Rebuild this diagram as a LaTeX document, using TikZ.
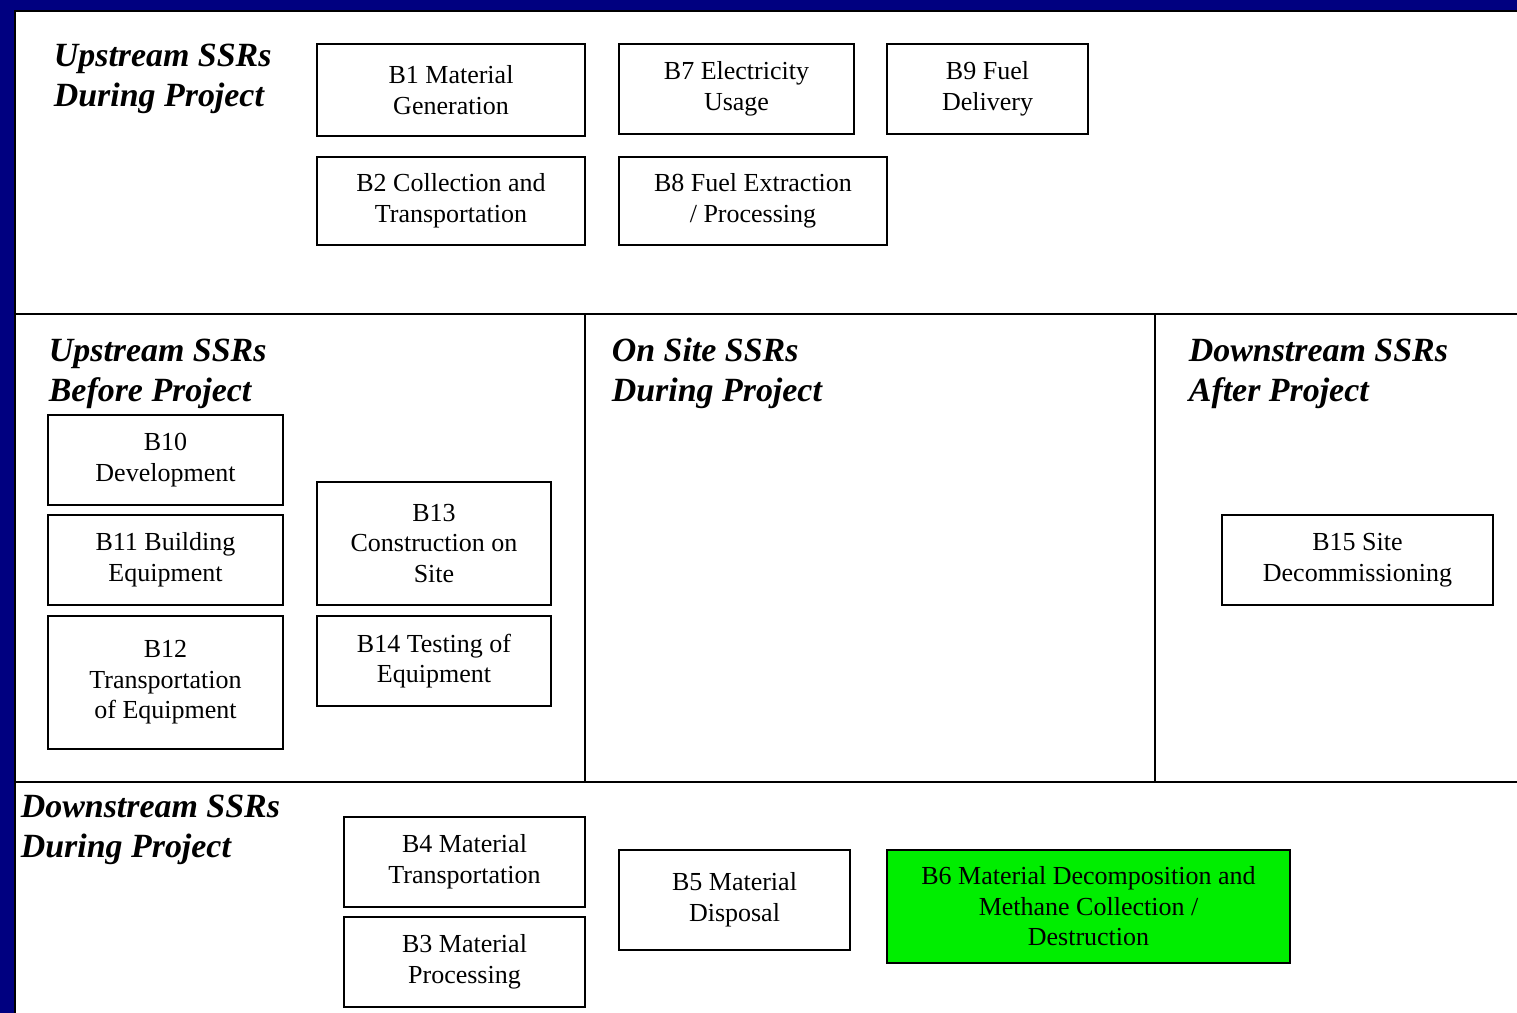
\documentclass[tikz,border=0pt]{standalone}
\usepackage{fontspec}
\setmainfont{Liberation Serif}
\usetikzlibrary{positioning}
\definecolor{slideblue}{RGB}{0,0,128}
\definecolor{hotgreen}{RGB}{0,238,0}

\begin{document}
\begin{tikzpicture}[x=0.02cm, y=-0.02cm, line width=1pt,
  ssr box/.style={draw, rectangle, align=center, inner sep=2pt, font=\fontsize{14.8}{17.4}\selectfont},
  group title/.style={anchor=north west, align=left, inner sep=0pt, font=\fontsize{19.3}{22.8}\selectfont\bfseries\itshape}]
\useasboundingbox (0,0) rectangle (1517,1013);
\fill[slideblue] (0,0) rectangle (1517,1013);
\draw[fill=white, line width=1.2pt] (15,11) rectangle (1530,1030);
% frame of the groups
\draw (15,314) -- (1530,314);
\draw (15,782) -- (1530,782);
\draw (585,314) -- (585,782);
\draw (1155,314) -- (1155,782);
\begin{scope}
\node[group title] (t1) at (53,43) {Upstream SSRs\\During Project};
\node[group title] (t2) at (48,338) {Upstream SSRs\\Before Project};
\node[group title] (t3) at (611,337) {On Site SSRs\\During Project};
\node[group title] (t4) at (1188,338) {Downstream SSRs\\After Project};
\node[group title] (t5) at (20,794) {Downstream SSRs\\During Project};
\end{scope}
\begin{scope}
\node[ssr box, minimum width=5.36cm, minimum height=1.84cm] (b1) at (451,90) {B1 Material\\Generation};
\node[ssr box, minimum width=4.7cm, minimum height=1.8cm] (b7) at (736.5,89) {B7 Electricity\\Usage};
\node[ssr box, minimum width=4.02cm, minimum height=1.8cm] (b9) at (987.5,89) {B9 Fuel\\Delivery};
\node[ssr box, minimum width=5.36cm, minimum height=1.76cm] (b2) at (451,201) {B2 Collection and\\Transportation};
\node[ssr box, minimum width=5.36cm, minimum height=1.76cm] (b8) at (753,201) {B8 Fuel Extraction\\/ Processing};
\node[ssr box, minimum width=4.7cm, minimum height=1.8cm] (b10) at (165.5,460) {B10\\Development};
\node[ssr box, minimum width=4.7cm, minimum height=1.8cm] (b11) at (165.5,560) {B11 Building\\Equipment};
\node[ssr box, minimum width=4.7cm, minimum height=2.66cm] (b12) at (165.5,682.5) {B12\\Transportation\\of Equipment};
\node[ssr box, minimum width=4.68cm, minimum height=2.46cm] (b13) at (434,543.5) {B13\\Construction on\\Site};
\node[ssr box, minimum width=4.68cm, minimum height=1.8cm] (b14) at (434,661) {B14 Testing of\\Equipment};
\node[ssr box, minimum width=5.42cm, minimum height=1.8cm] (b15) at (1357.5,560) {B15 Site\\Decommissioning};
\node[ssr box, minimum width=4.82cm, minimum height=1.8cm] (b4) at (464.5,862) {B4 Material\\Transportation};
\node[ssr box, minimum width=4.82cm, minimum height=1.8cm] (b3) at (464.5,962) {B3 Material\\Processing};
\node[ssr box, minimum width=4.62cm, minimum height=2cm] (b5) at (734.5,900) {B5 Material\\Disposal};
\node[ssr box, fill=hotgreen, minimum width=8.06cm, minimum height=2.26cm] (b6) at (1088.5,906.5) {B6 Material Decomposition and\\Methane Collection /\\Destruction};
\end{scope}
\end{tikzpicture}
\end{document}
